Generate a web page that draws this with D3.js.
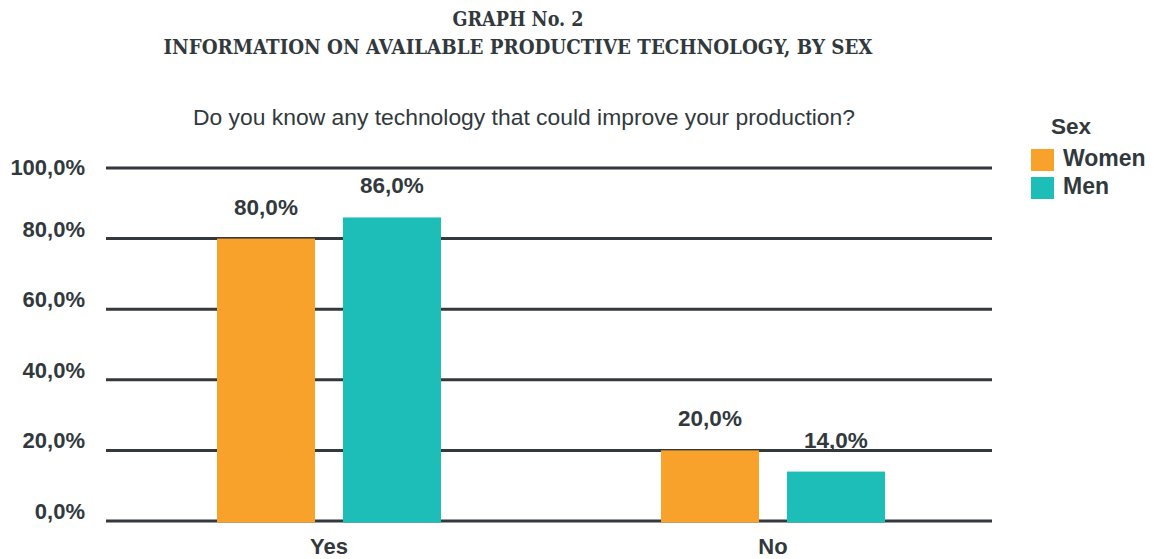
<!DOCTYPE html>
<html>
<head>
<meta charset="utf-8">
<script src="https://cdn.jsdelivr.net/npm/d3@7"></script>
<style>
  html, body { margin: 0; padding: 0; background: #fff; }
  svg { display: block; }
</style>
</head>
<body>
<svg id="chart" width="1154" height="559"></svg>
<script>
const categories = ["Yes", "No"];
const series = ["Women", "Men"];
const women = [80.0, 20.0];
const men = [86.0, 14.0];
const yTicks = [0, 20, 40, 60, 80, 100];
const titleLines = ["GRAPH No. 2", "INFORMATION ON AVAILABLE PRODUCTIVE TECHNOLOGY, BY SEX"];
const subtitle = "Do you know any technology that could improve your production?";
const legendTitle = "Sex";

(function () {
const colors = { Women: "#F8A22C", Men: "#1DBDB8" };
const textColor = "#32393D";
const fmt = v => v.toFixed(1).replace(".", ",") + "%";

const svg = d3.select("#chart");
const sans = "'Liberation Sans', Arial, Helvetica, sans-serif";
const serif = "'DejaVu Serif', 'Liberation Serif', serif";

const plotLeft = 106, gridRight = 992, bandRight = 996, plotTop = 168, plotBottom = 521;

const x0 = d3.scaleBand().domain(categories).range([plotLeft, bandRight])
  .paddingInner(0.4955).paddingOuter(0.25);
const x1 = d3.scaleBand().domain(series).range([0, x0.bandwidth()]).paddingInner(0.222);
const y = d3.scaleLinear().domain([0, 100]).range([plotBottom, plotTop]);

// Titles
svg.append("text").attr("x", 518).attr("y", 25.5).attr("text-anchor", "middle")
  .attr("font-family", serif).attr("font-weight", "bold").attr("font-size", 20)
  .attr("fill", textColor).attr("textLength", 131).attr("lengthAdjust", "spacingAndGlyphs")
  .text(titleLines[0]);
svg.append("text").attr("x", 518).attr("y", 54).attr("text-anchor", "middle")
  .attr("font-family", serif).attr("font-weight", "bold").attr("font-size", 21)
  .attr("fill", textColor).attr("textLength", 709).attr("lengthAdjust", "spacingAndGlyphs")
  .text(titleLines[1]);

svg.append("text").attr("x", 524).attr("y", 125).attr("text-anchor", "middle")
  .attr("font-family", sans).attr("font-size", 21.5).attr("fill", textColor)
  .attr("textLength", 662).attr("lengthAdjust", "spacingAndGlyphs")
  .text(subtitle);

// Gridlines
svg.append("g").selectAll("line").data(yTicks).join("line")
  .attr("x1", plotLeft).attr("x2", gridRight)
  .attr("y1", d => y(d)).attr("y2", d => y(d))
  .attr("stroke", "#33393C").attr("stroke-width", 3);

// Y labels
svg.append("g").selectAll("text").data(yTicks).join("text")
  .attr("x", 85).attr("y", d => y(d) - 2 + (d === 100 ? 9 : 0))
  .attr("text-anchor", "end")
  .attr("font-family", sans).attr("font-weight", "bold").attr("font-size", 22)
  .attr("fill", textColor).text(d => fmt(d));

// Bars
const rows = categories.map((c, i) => ({ cat: c, values: [
  { s: "Women", v: women[i] }, { s: "Men", v: men[i] } ] }));

const g = svg.append("g").selectAll("g").data(rows).join("g")
  .attr("transform", d => `translate(${x0(d.cat)},0)`);

g.selectAll("rect").data(d => d.values).join("rect")
  .attr("x", d => x1(d.s)).attr("width", x1.bandwidth())
  .attr("y", d => y(d.v)).attr("height", d => y(0) - y(d.v) + 1.5)
  .attr("fill", d => colors[d.s]);

g.selectAll("text").data(d => d.values).join("text")
  .attr("x", d => x1(d.s) + x1.bandwidth() / 2)
  .attr("y", d => y(d.v) - 24)
  .attr("text-anchor", "middle")
  .attr("font-family", sans).attr("font-weight", "bold").attr("font-size", 22.5)
  .attr("fill", textColor).text(d => fmt(d.v));

// Category labels
svg.append("g").selectAll("text").data(categories).join("text")
  .attr("x", d => x0(d) + x0.bandwidth() / 2)
  .attr("y", 554)
  .attr("text-anchor", "middle")
  .attr("font-family", sans).attr("font-weight", "bold").attr("font-size", 22)
  .attr("fill", textColor).text(d => d);

// Legend
svg.append("text").attr("x", 1051).attr("y", 134)
  .attr("font-family", sans).attr("font-weight", "bold").attr("font-size", 22.5)
  .attr("fill", textColor).text(legendTitle);
const lg = svg.append("g").selectAll("g").data(series).join("g")
  .attr("transform", (d, i) => `translate(1031,${149 + i * 28})`);
lg.append("rect").attr("width", 23).attr("height", 22).attr("fill", d => colors[d]);
lg.append("text").attr("x", 32).attr("y", 17)
  .attr("font-family", sans).attr("font-weight", "bold").attr("font-size", 23)
  .attr("fill", textColor).text(d => d);
})();
</script>
</body>
</html>
